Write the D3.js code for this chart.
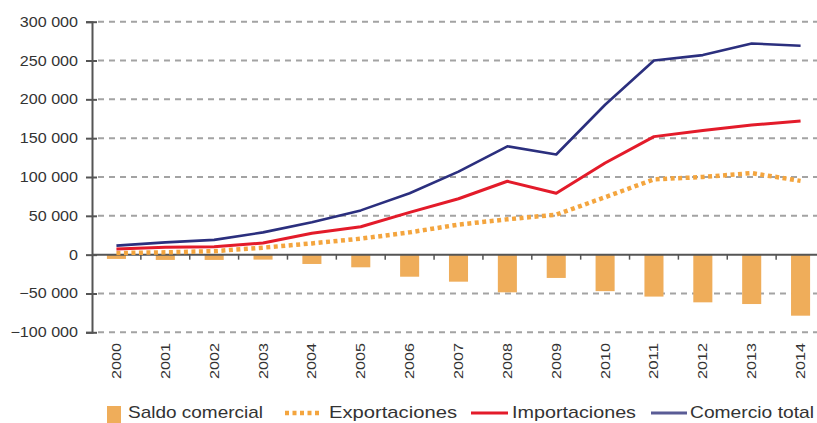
<!DOCTYPE html>
<html><head><meta charset="utf-8">
<script src="https://cdn.jsdelivr.net/npm/d3@7"></script>
<style>
html,body{margin:0;padding:0;background:#fff;}
svg{display:block;font-family:"Liberation Sans",Arial,sans-serif;}
</style></head>
<body><svg id="c" width="817" height="423"></svg>
<script>
const years = ["2000","2001","2002","2003","2004","2005","2006","2007","2008","2009","2010","2011","2012","2013","2014"];
const saldo = [-5500,-6800,-6800,-6400,-12000,-16300,-28400,-34800,-48500,-30000,-47000,-54000,-61400,-63600,-78600];
const exportaciones = [2000,3000,4500,9000,14500,20600,28700,38700,45500,51500,74000,97000,100000,105000,95000];
const importaciones = [7300,9400,10300,15000,27500,36000,54500,72000,94500,79000,118000,152000,160000,167000,172000];
const comercio = [11600,15800,19000,28700,41600,57000,79000,107000,139500,129000,193000,250000,257000,272000,269000];
const yTicks = [300000,250000,200000,150000,100000,50000,0,-50000,-100000];
const legendLabels = ["Saldo comercial","Exportaciones","Importaciones","Comercio total"];

const svg = d3.select("#c");
const x = d3.scaleBand().domain(years).range([92, 825]).paddingInner(0.61).paddingOuter(0.305);
const xc = d => x(d) + x.bandwidth()/2;
const y = d3.scaleLinear().domain([-100000, 300000]).range([332.3, 21.7]);
const fmt = v => v === 0 ? "0" : d3.format(",")(v).replace(/,/g, " ");

// gridlines
svg.append("g").selectAll("line").data(yTicks.filter(v => v !== 0)).join("line")
  .attr("x1", 98).attr("x2", 817).attr("y1", d => y(d)).attr("y2", d => y(d))
  .attr("stroke", "#a3a3a3").attr("stroke-width", 2).attr("stroke-dasharray", "6,5");

// bars
svg.append("g").selectAll("rect").data(years).join("rect")
  .attr("x", (d) => x(d)).attr("width", x.bandwidth())
  .attr("y", (d, i) => y(Math.max(0, saldo[i])))
  .attr("height", (d, i) => Math.abs(y(saldo[i]) - y(0)))
  .attr("fill", "#efad5a");

// y axis
const yAxis = svg.append("g").attr("transform", "translate(92,0)")
  .call(d3.axisLeft(y).tickValues(yTicks).tickFormat(fmt).tickSize(6).tickPadding(10));
yAxis.select(".domain").attr("stroke", "#555").attr("stroke-width", 2);
yAxis.selectAll(".tick line").attr("stroke", "#555").attr("stroke-width", 2).attr("x2", 5).attr("x1", -6);
yAxis.selectAll(".tick text").attr("font-size", 14).attr("fill", "#333").attr("x", -14)
  .attr("font-family", "'Liberation Sans',Arial,sans-serif");
yAxis.selectAll(".tick text").each(function(){ const l = this.getComputedTextLength(); d3.select(this).attr("textLength", l*1.15).attr("lengthAdjust","spacingAndGlyphs"); });

// zero line (x axis)
const xAxis = svg.append("g").attr("transform", `translate(0,${y(0)})`);
xAxis.append("line").attr("x1", 92).attr("x2", 817).attr("stroke", "#555").attr("stroke-width", 2);
xAxis.selectAll("line.tk").data(years.slice(1)).join("line").attr("class","tk")
  .attr("x1", d => x(d) - x.step()*x.paddingInner()/2).attr("x2", d => x(d) - x.step()*x.paddingInner()/2)
  .attr("y1", 0).attr("y2", 5).attr("stroke", "#555").attr("stroke-width", 1.5);

// year labels
svg.append("g").selectAll("text").data(years).join("text")
  .attr("transform", d => `translate(${xc(d)+4.5},343) rotate(-90)`)
  .attr("text-anchor", "end").attr("font-size", 13).attr("fill", "#333")
  .attr("textLength", 36).attr("lengthAdjust", "spacingAndGlyphs")
  .text(d => d);

// lines
const line = arr => d3.line().x((d, i) => xc(years[i])).y(d => y(d)).curve(d3.curveLinear)(arr);
svg.append("path").attr("d", line(exportaciones)).attr("fill", "none")
  .attr("stroke", "#f4a53e").attr("stroke-width", 4.5).attr("stroke-dasharray", "4,3.5");
svg.append("path").attr("d", line(importaciones)).attr("fill", "none")
  .attr("stroke", "#e31b2a").attr("stroke-width", 3).attr("stroke-linejoin", "round");
svg.append("path").attr("d", line(comercio)).attr("fill", "none")
  .attr("stroke", "#2b2f7e").attr("stroke-width", 2.6).attr("stroke-linejoin", "round");

// legend
const lg = svg.append("g");
lg.append("rect").attr("x", 107).attr("y", 406).attr("width", 14).attr("height", 17).attr("fill", "#efad5a");
lg.append("line").attr("x1", 285).attr("x2", 321).attr("y1", 413).attr("y2", 413)
  .attr("stroke", "#f4a53e").attr("stroke-width", 4.5).attr("stroke-dasharray", "4,3.5");
lg.append("line").attr("x1", 471).attr("x2", 508).attr("y1", 413).attr("y2", 413)
  .attr("stroke", "#e31b2a").attr("stroke-width", 3);
lg.append("line").attr("x1", 651).attr("x2", 687).attr("y1", 413).attr("y2", 413)
  .attr("stroke", "#5a5c96").attr("stroke-width", 3);
const lx = [128, 329, 512, 690];
const lw = [135, 128, 124, 124];
lg.selectAll("text").data(legendLabels).join("text")
  .attr("x", (d, i) => lx[i]).attr("y", 418).attr("font-size", 17).attr("fill", "#333")
  .attr("textLength", (d, i) => lw[i]).attr("lengthAdjust", "spacingAndGlyphs")
  .text(d => d);
</script></body></html>
